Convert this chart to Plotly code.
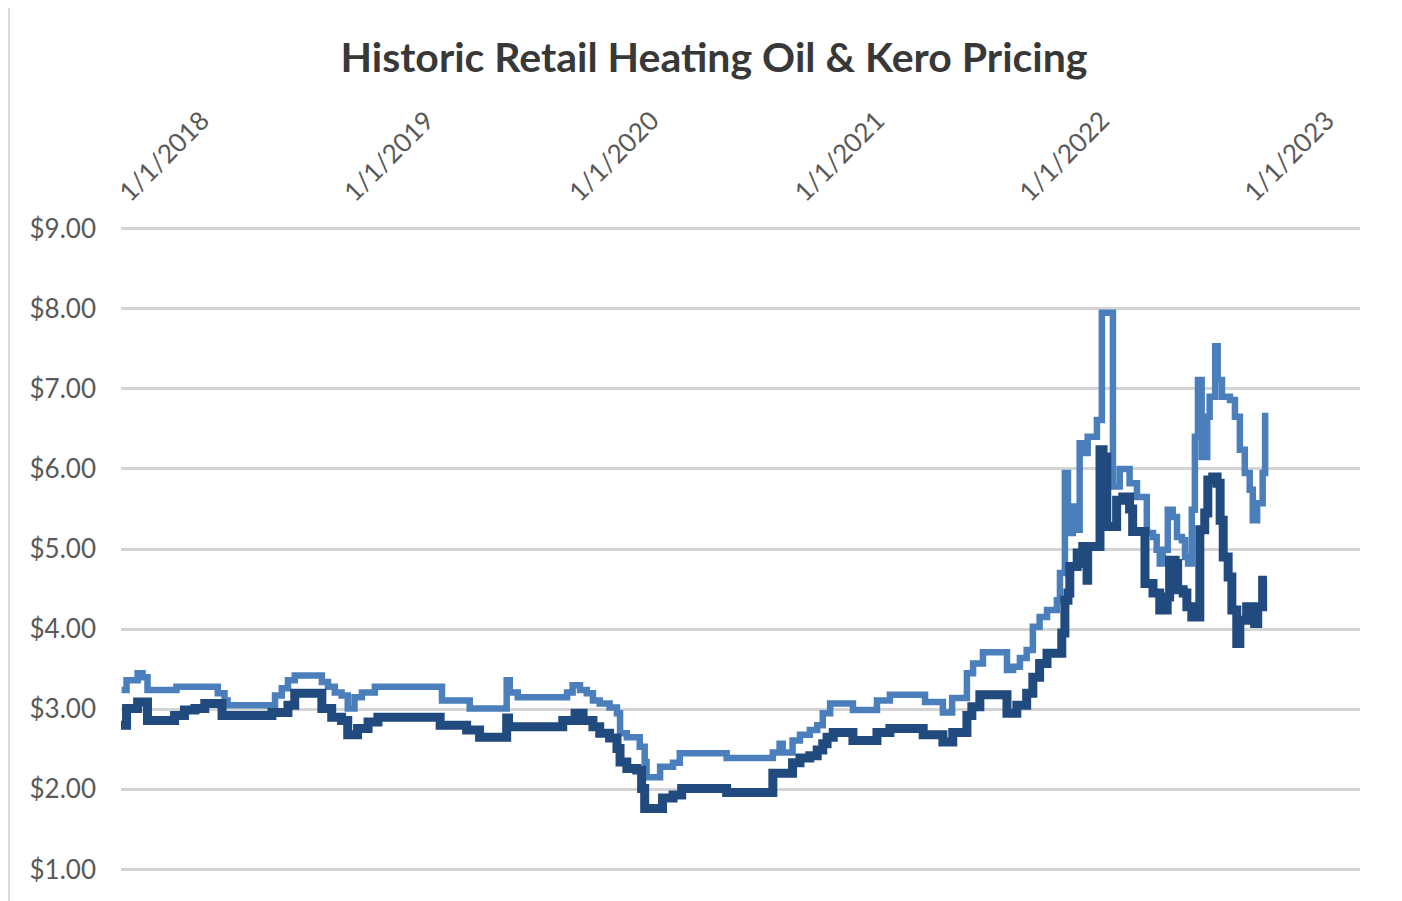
import plotly.graph_objects as go

# Heating oil (dark) series: change points
oil_dates = [
    "2018-01-01", "2018-01-10", "2018-01-28", "2018-02-13", "2018-03-29", "2018-04-14",
    "2018-05-01", "2018-05-17", "2018-06-14", "2018-09-03", "2018-09-29", "2018-10-10",
    "2018-11-23", "2018-12-09", "2018-12-25", "2019-01-04", "2019-01-20", "2019-02-06",
    "2019-02-22", "2019-06-03", "2019-07-16", "2019-08-06", "2019-09-19", "2019-09-22",
    "2019-12-19", "2020-01-08", "2020-01-21", "2020-02-06", "2020-02-17", "2020-03-04",
    "2020-03-16", "2020-03-21", "2020-04-01", "2020-04-17", "2020-04-25", "2020-04-30",
    "2020-05-29", "2020-06-15", "2020-06-29", "2020-09-10", "2020-11-24", "2020-12-26",
    "2021-01-07", "2021-01-23", "2021-02-04", "2021-02-13", "2021-02-20", "2021-03-02",
    "2021-04-03", "2021-05-12", "2021-06-02", "2021-07-26", "2021-08-27", "2021-09-12",
    "2021-10-05", "2021-10-13", "2021-10-26", "2021-12-09", "2021-12-25", "2022-01-10",
    "2022-01-20", "2022-01-31", "2022-02-12", "2022-03-08", "2022-03-13", "2022-03-18",
    "2022-03-21", "2022-04-02", "2022-04-06", "2022-04-11", "2022-04-18", "2022-04-19",
    "2022-05-09", "2022-05-14", "2022-05-20", "2022-06-05", "2022-06-15", "2022-06-26",
    "2022-07-01", "2022-07-21", "2022-08-03", "2022-08-14", "2022-08-26", "2022-08-30",
    "2022-09-08", "2022-09-12", "2022-09-21", "2022-09-27", "2022-10-05", "2022-10-18",
    "2022-10-26", "2022-10-31", "2022-11-08", "2022-11-15", "2022-11-20", "2022-11-25",
    "2022-12-03", "2022-12-09", "2022-12-17", "2022-12-22", "2023-01-02", "2023-01-15",
    "2023-01-20", "2023-01-28", "2023-02-04",
]
oil_prices = [
    2.80, 3.01, 3.09, 2.86, 2.92, 2.99,
    3.01, 3.07, 2.92, 2.96, 3.05, 3.20,
    3.01, 2.90, 2.86, 2.68, 2.76, 2.84,
    2.90, 2.80, 2.74, 2.65, 2.89, 2.78,
    2.86, 2.95, 2.86, 2.78, 2.70, 2.64,
    2.51, 2.34, 2.26, 2.24, 2.01, 1.76,
    1.89, 1.93, 2.01, 1.96, 2.20, 2.33,
    2.39, 2.42, 2.49, 2.57, 2.65, 2.71,
    2.61, 2.71, 2.76, 2.68, 2.59, 2.71,
    2.92, 3.03, 3.18, 2.95, 3.05, 3.20,
    3.40, 3.57, 3.70, 3.95, 4.36, 4.45,
    4.78, 4.95, 4.82, 5.03, 4.61, 5.03,
    6.24, 6.15, 5.28, 5.61, 5.65, 5.50,
    5.22, 4.57, 4.45, 4.24, 4.40, 4.86,
    4.82, 4.49, 4.45, 4.28, 4.15, 5.24,
    5.45, 5.86, 5.90, 5.82, 5.36, 4.90,
    4.65, 4.24, 3.82, 4.11, 4.28, 4.07,
    4.28, 4.61, 4.61,
]

# Kerosene (light) series: change points
kero_dates = [
    "2018-01-02", "2018-01-10", "2018-01-28", "2018-02-05", "2018-02-13", "2018-04-01",
    "2018-06-07", "2018-06-18", "2018-06-23", "2018-09-08", "2018-09-19", "2018-09-29",
    "2018-10-10", "2018-11-23", "2018-12-03", "2018-12-14", "2018-12-25", "2019-01-04",
    "2019-01-15", "2019-01-27", "2019-02-17", "2019-06-06", "2019-07-21", "2019-09-19",
    "2019-09-24", "2019-10-07", "2019-12-26", "2020-01-04", "2020-01-16", "2020-01-27",
    "2020-02-06", "2020-02-17", "2020-03-04", "2020-03-16", "2020-03-21", "2020-04-01",
    "2020-04-22", "2020-04-30", "2020-05-03", "2020-05-25", "2020-06-15", "2020-06-26",
    "2020-09-10", "2020-11-24", "2020-12-05", "2020-12-10", "2020-12-26", "2021-01-07",
    "2021-01-23", "2021-02-04", "2021-02-13", "2021-02-25", "2021-04-03", "2021-05-12",
    "2021-06-02", "2021-07-29", "2021-08-27", "2021-09-11", "2021-10-05", "2021-10-15",
    "2021-10-31", "2021-12-09", "2021-12-19", "2021-12-30", "2022-01-10", "2022-01-20",
    "2022-01-31", "2022-02-12", "2022-02-28", "2022-03-05", "2022-03-13", "2022-03-18",
    "2022-03-26", "2022-04-02", "2022-04-06", "2022-04-14", "2022-04-19", "2022-05-04",
    "2022-05-12", "2022-05-22", "2022-05-30", "2022-06-10", "2022-06-26", "2022-07-08",
    "2022-07-24", "2022-08-03", "2022-08-09", "2022-08-14", "2022-08-19", "2022-08-27",
    "2022-09-04", "2022-09-11", "2022-09-19", "2022-09-24", "2022-09-29", "2022-10-05",
    "2022-10-10", "2022-10-15", "2022-10-21", "2022-10-30", "2022-11-03", "2022-11-12",
    "2022-11-16", "2022-11-23", "2022-12-06", "2022-12-14", "2022-12-22", "2022-12-30",
    "2023-01-07", "2023-01-12", "2023-01-19", "2023-01-28", "2023-02-01",
]
kero_prices = [
    3.24, 3.36, 3.45, 3.40, 3.24, 3.28,
    3.20, 3.11, 3.05, 3.17, 3.26, 3.36,
    3.42, 3.34, 3.28, 3.21, 3.17, 3.01,
    3.15, 3.21, 3.28, 3.11, 3.01, 3.36,
    3.21, 3.15, 3.21, 3.30, 3.24, 3.20,
    3.11, 3.07, 3.02, 2.95, 2.70, 2.65,
    2.53, 2.34, 2.15, 2.28, 2.33, 2.45,
    2.39, 2.46, 2.57, 2.46, 2.61, 2.68,
    2.74, 2.80, 2.95, 3.07, 2.99, 3.11,
    3.18, 3.09, 2.96, 3.14, 3.45, 3.57,
    3.71, 3.49, 3.53, 3.64, 3.74, 4.03,
    4.15, 4.24, 4.36, 4.70, 5.95, 5.20,
    5.53, 5.24, 6.32, 6.20, 6.40, 6.61,
    7.95, 7.95, 5.78, 6.00, 5.82, 5.65,
    5.20, 5.15, 4.99, 4.82, 4.99, 5.49,
    5.40, 5.15, 5.11, 4.90, 4.82, 5.49,
    6.40, 7.11, 6.15, 6.65, 6.90, 7.53,
    7.11, 6.90, 6.86, 6.65, 6.24, 5.95,
    5.74, 5.36, 5.57, 5.95, 6.70,
]

x_tick_vals = ["2018-01-01", "2019-01-01", "2020-01-01", "2021-01-01", "2022-01-01", "2023-01-01"]
x_tick_text = ["1/1/2018", "1/1/2019", "1/1/2020", "1/1/2021", "1/1/2022", "1/1/2023"]
y_tick_vals = [1, 2, 3, 4, 5, 6, 7, 8, 9]
y_tick_text = ["$1.00", "$2.00", "$3.00", "$4.00", "$5.00", "$6.00", "$7.00", "$8.00", "$9.00"]

fig = go.Figure()
fig.add_trace(go.Scatter(
    x=kero_dates, y=kero_prices, mode="lines", name="Kerosene",
    line=dict(color="#4a7fbb", width=6.5, shape="hv"),
))
fig.add_trace(go.Scatter(
    x=oil_dates, y=oil_prices, mode="lines", name="Heating Oil",
    line=dict(color="#214a7e", width=9, shape="hv"),
))

# the page body has an 8px margin, so the figure is laid out 8px in from the top-left
OFF = 8
W, H = 1402 - OFF, 901 - OFF
PAD = 0.02            # small value padding so the $1 and $9 gridlines are drawn
PXU = 80.0            # pixels per dollar in the reference
L, R = 121 - OFF, 42
T = 229 - OFF - PAD * PXU
B = 32 - PAD * PXU
pw, ph = W - L - R, H - T - B


def px(x):
    return (x - L) / pw


def py(y):
    return (H - B - y) / ph


shapes = [
    # thin gray frame edge on the left of the chart object
    dict(type="rect", xref="paper", yref="paper", x0=px(0), x1=px(2), y0=py(H), y1=py(0),
         fillcolor="#d8d8d8", line=dict(width=0), layer="below"),
]

fig.update_layout(
    width=W, height=H,
    margin=dict(l=L, r=R, t=T, b=B, autoexpand=False),
    paper_bgcolor="white",
    plot_bgcolor="white",
    showlegend=False,
    shapes=shapes,
    title=dict(
        text="<b>Historic Retail Heating Oil &amp; Kero Pricing</b>",
        x=(714 - OFF) / W, xanchor="center", xref="container",
        y=1 - (58 - OFF) / H, yanchor="middle", yref="container",
        font=dict(family="Lato", size=41, color="#383838"),
    ),
    xaxis=dict(
        type="date",
        range=["2018-01-01", "2023-07-05"],
        side="top",
        tickvals=x_tick_vals, ticktext=x_tick_text,
        tickangle=-45,
        showgrid=False, zeroline=False, showline=False,
        ticks="",
        tickfont=dict(family="Lato", size=26, color="#595959"),
        ticklabelstandoff=14,
    ),
    yaxis=dict(
        range=[1 - PAD, 9 + PAD],
        tickvals=y_tick_vals, ticktext=y_tick_text,
        showgrid=True, gridcolor="#d4d4d4", gridwidth=2.5,
        zeroline=False, showline=False, ticks="",
        tickfont=dict(family="Lato", size=26, color="#595959"),
        ticklabelstandoff=24,
    ),
)

fig.write_html("out.html")
